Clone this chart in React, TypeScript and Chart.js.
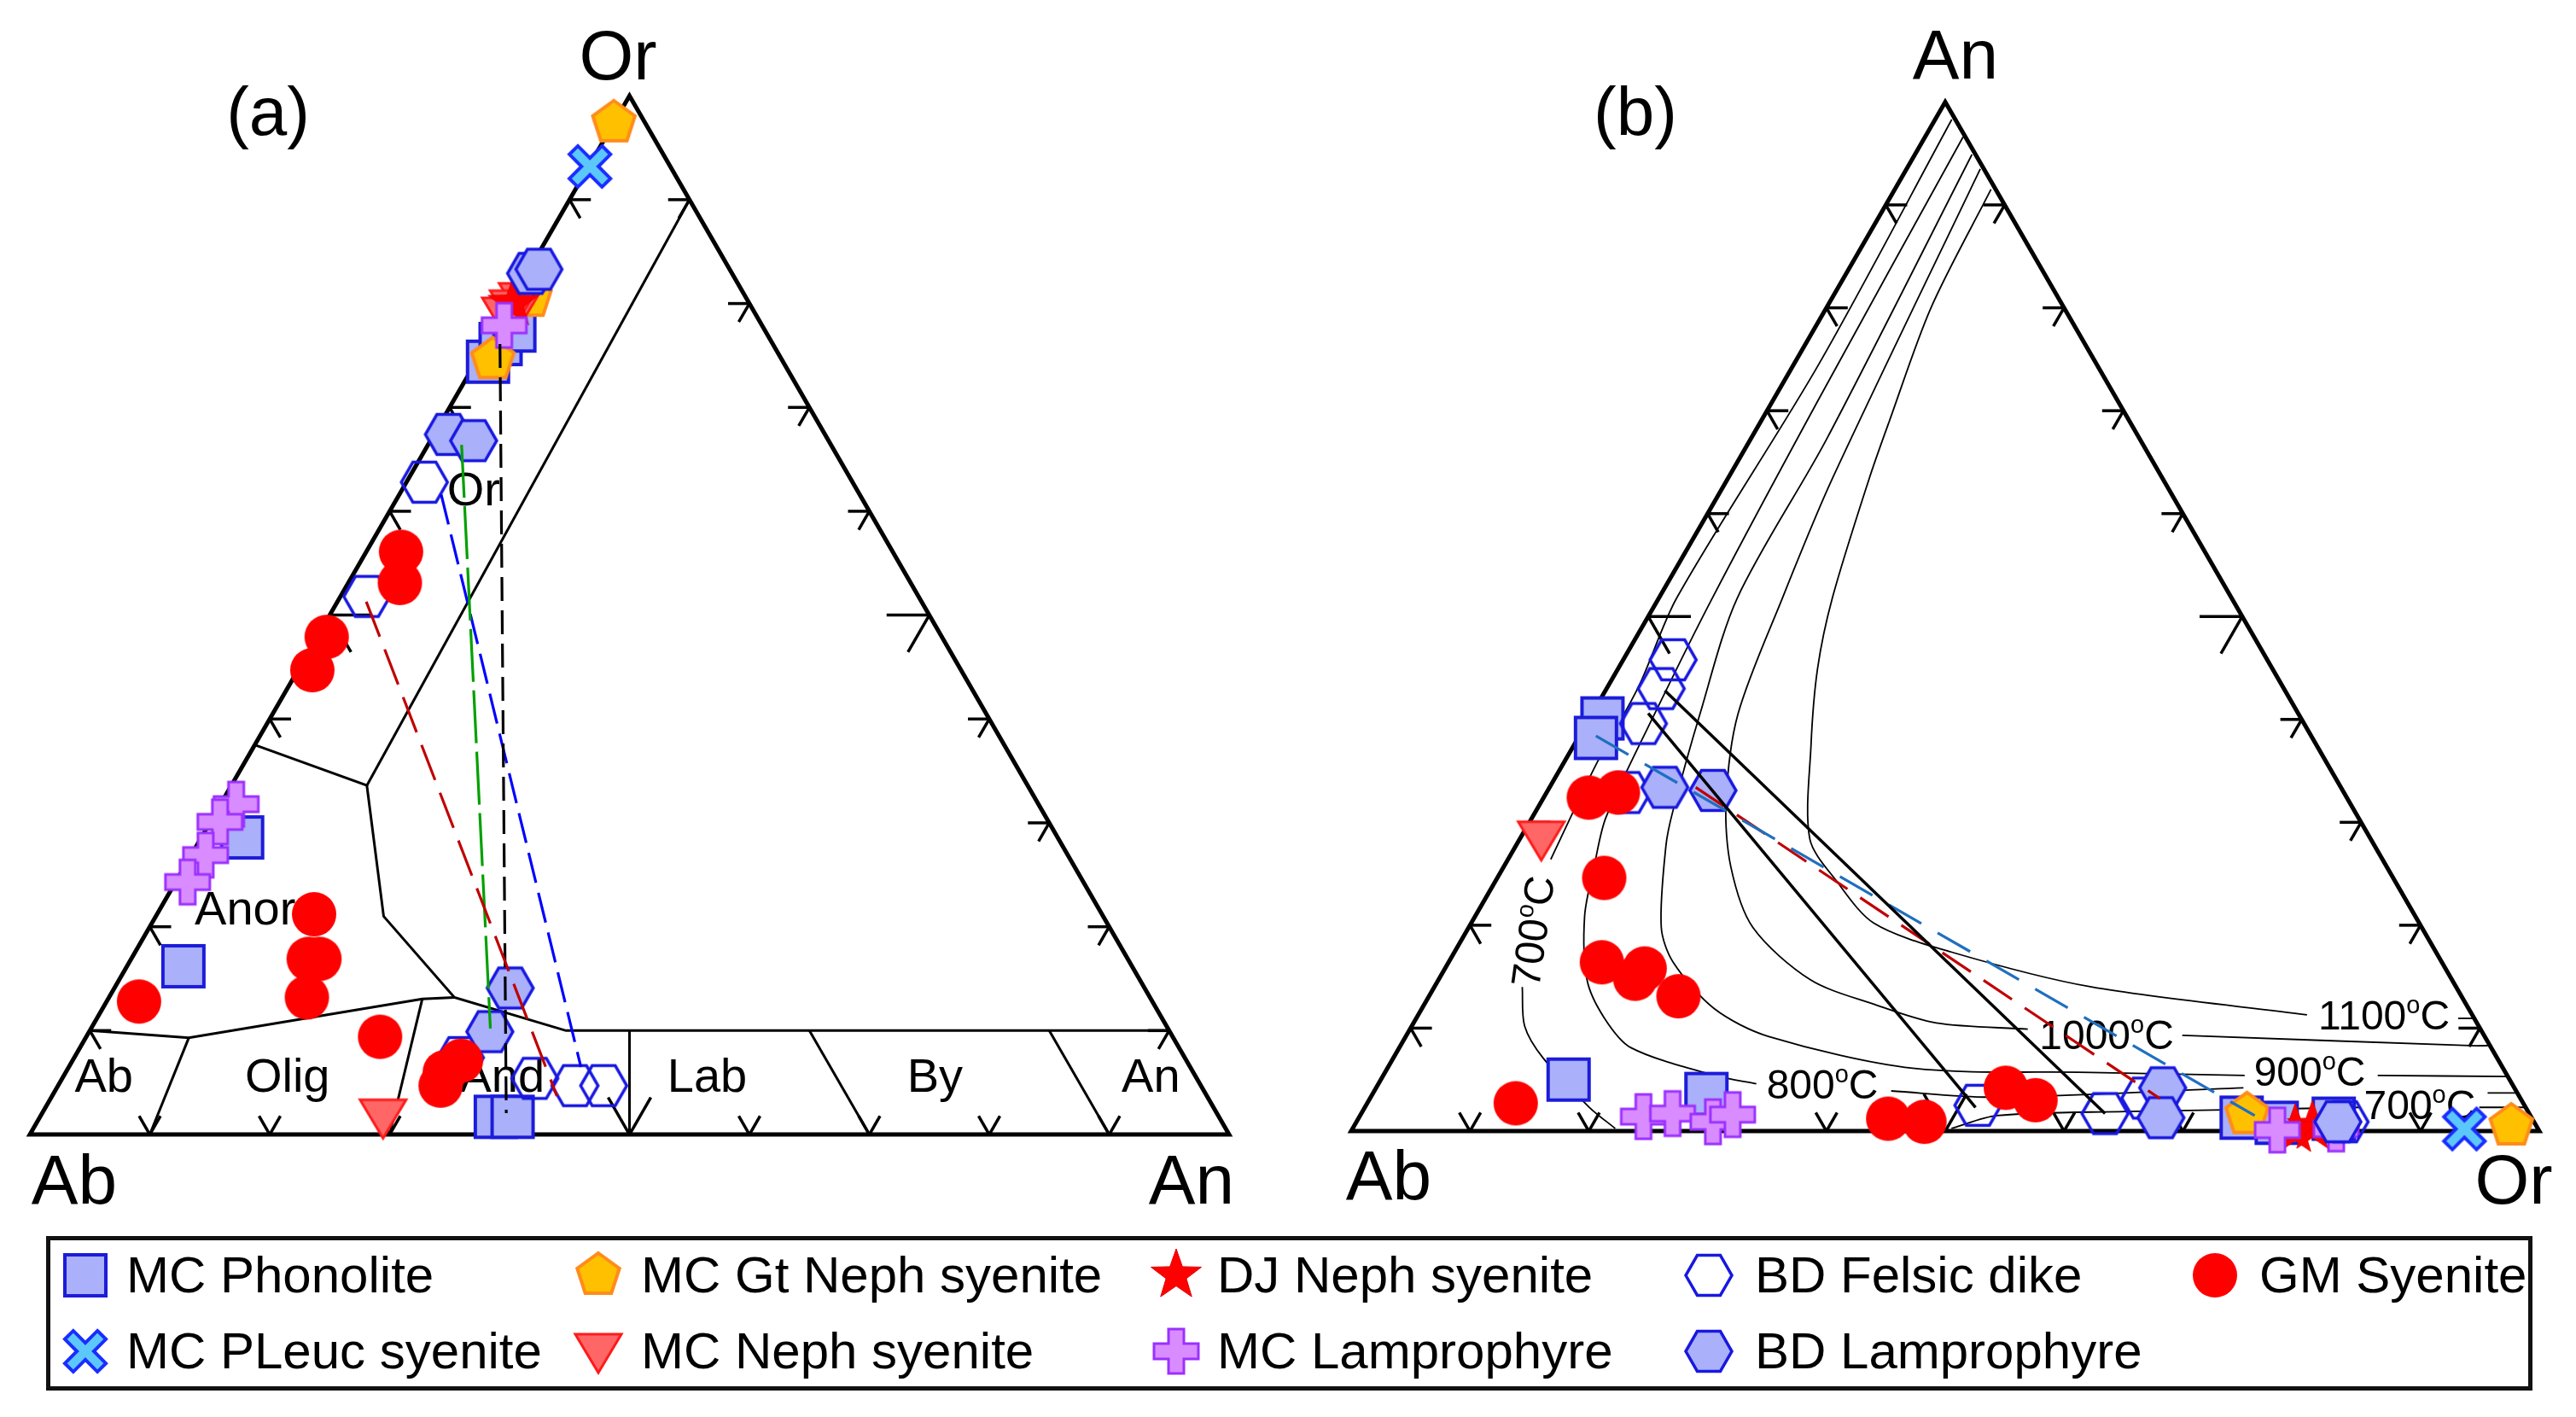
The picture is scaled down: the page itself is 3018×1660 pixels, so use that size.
import React, { useEffect, useRef } from 'react';
import { Chart, registerables } from 'chart.js';

Chart.register(...registerables);

const FONT = '"Liberation Sans", Arial, Helvetica, sans-serif';
const H = Math.sqrt(3) / 2;

type P = [number, number]; // [An %, Or %]  (Ab = 100 - An - Or)

// ---------------- Panel (a): Ab (left) - An (right) - Or (top) ----------------
const aPhonolite: P[] = [[1.0, 74.4], [1.2, 76.1], [1.7, 77.4], [3.4, 28.6], [4.7, 16.2], [38.0, 1.7], [39.4, 1.7]];
const aPLeuc: P[] = [[0.1, 93.2]];
const aGtNeph: P[] = [[0.0, 97.4], [1.3, 74.6], [1.4, 80.6]];
const aNeph: P[] = [[28.6, 1.7], [0.9, 80.3], [0.5, 79.6], [0.2, 78.9]];
const aDJNeph: P[] = [[0.3, 80.0]];
const aMCLamp: P[] = [[1.3, 31.8], [0.8, 30.1], [1.2, 26.9], [1.0, 24.3], [0.6, 77.9]];
const aFelsic: P[] = [[1.5, 62.8], [2.2, 51.8], [32.2, 7.4], [39.4, 5.4], [43.1, 4.7], [45.5, 4.7]];
const aBDLamp: P[] = [[0.3, 82.9], [0.8, 83.3], [1.2, 67.4], [3.6, 66.8], [33.0, 14.1], [33.4, 9.9]];
const aSyenite: P[] = [[2.9, 56.1], [4.3, 53.1], [0.8, 47.9], [1.2, 44.7], [13.1, 21.2], [14.8, 16.9], [15.7, 16.9], [16.5, 13.2], [2.7, 12.8], [24.5, 9.4], [31.6, 6.0], [31.9, 4.7], [32.4, 7.1]];

const aBounds: P[][] = [
  [[10, 90], [11.3, 33.6]],
  [[0, 37.5], [11.3, 33.6], [19, 21], [28.8, 13.2], [39.7, 10], [90, 10]],
  [[28.8, 13.2], [26.2, 13.05], [8.6, 9.3], [0, 10]],
  [[8.6, 9.3], [10, 0]],
  [[26.2, 13.05], [30, 0]],
  [[45, 10], [50, 0]],
  [[60, 10], [70, 0]],
  [[80, 10], [90, 0]],
];
const aTieRed: P[] = [[2.4, 51.3], [42.1, 3.7]];
const aTieGreen: P[] = [[2.8, 66.4], [33.3, 10.2]];
const aTieBlack: P[] = [[1.15, 76.1], [38.7, 2.05]];
const aTieBlue: P[] = [[3.5, 61.6], [42.7, 6.5]];
const aFieldNames = ['Or', 'Anor', 'Ab', 'Olig', 'And', 'Lab', 'By', 'An'];
const aFieldPos: P[] = [[5.9, 62.2], [7.0, 21.9], [3.3, 5.75], [18.6, 5.75], [36.5, 5.75], [53.6, 5.75], [72.6, 5.75], [90.6, 5.75]];

// ---------------- Panel (b): Ab (left) - Or (right) - An (top) ----------------
const bPhonolite: P[] = [[40.1, 1.1], [38.2, 1.5], [5.0, 15.8], [3.6, 28.1], [1.3, 74.3], [0.8, 77.5], [1.2, 82.1]];
const bPLeuc: P[] = [[0.2, 93.6]];
const bGtNeph: P[] = [[1.6, 74.6], [0.5, 97.4]];
const bNeph: P[] = [[28.4, 1.8]];
const bDJNeph: P[] = [[0.4, 80.7], [0.1, 79.4]];
const bMCLamp: P[] = [[1.4, 23.9], [1.7, 26.2], [0.9, 30.0], [1.6, 31.3], [0.1, 77.9], [0.2, 82.8]];
const bFelsic: P[] = [[45.8, 4.2], [43.0, 4.6], [39.6, 4.8], [32.9, 6.8], [2.5, 51.5], [1.7, 62.6], [3.2, 65.2], [0.9, 83.2]];
const bBDLamp: P[] = [[33.4, 9.7], [33.1, 13.9], [4.2, 66.2], [1.3, 67.5], [0.9, 82.6]];
const bSyenite: P[] = [[32.4, 3.8], [32.9, 6.0], [24.6, 9.0], [16.4, 12.9], [15.8, 16.8], [14.8, 16.5], [13.1, 21.0], [2.7, 12.5], [1.2, 44.6], [0.9, 47.8], [4.2, 53.0], [3.0, 56.1]];

const bTie1: P[] = [[40.6, 4.7], [2.3, 51.4]];
const bTie2: P[] = [[42.8, 5.0], [1.7, 62.6]];
const bDashBlue: P[] = [[38.4, 1.4], [1.5, 75.3]];
const bDashRed: P[] = [[33.4, 12.3], [3.15, 66.5]];

const bIso700: P[][] = [
  [[98.3, 1.4], [74.5, 2.1], [51.8, 1.5], [43.2, 2.6], [35.7, 2.8], [26.4, 3.6]],
  [[14.0, 7.4], [10.2, 9.5], [7.1, 12.6], [2.3, 18.9], [0.25, 22.1]],
  [[0.25, 50.4], [1.5, 53.6], [1.9, 64.2], [2.1, 74.8], [2.3, 83.8]],
  [[2.3, 93.8], [2.3, 97.6]],
];
const bIso800: P[][] = [
  [[96.6, 3.2], [70.9, 3.8], [51.8, 4.5], [41.5, 5.2], [30.5, 6.2], [25.7, 7.6], [20.9, 9.2], [14.7, 12.5], [11.0, 15.8], [8.1, 19.5], [5.4, 27.9], [4.6, 31.8]],
  [[3.9, 43.5], [3.3, 52.2], [4.2, 73.0]],
  [[3.7, 93.8], [3.7, 96.3]],
];
const bIso900: P[][] = [
  [[94.9, 4.8], [67.2, 6.4], [51.8, 6.6], [40.5, 9.1], [31.2, 11.5], [27.8, 12.6], [19.8, 16.2], [16.4, 18.9], [11.9, 24.6], [9.2, 30.5], [6.1, 44.2], [5.7, 59.4], [5.4, 72.5]],
  [[5.4, 83.7], [5.3, 94.7]],
];
const bIso1000: P[][] = [
  [[93.5, 6.2], [63.4, 8.8], [51.8, 10.4], [40.5, 12.3], [31.9, 15.6], [25.7, 19.1], [19.8, 23.9], [14.7, 31.3], [12.3, 37.9], [10.5, 44.0], [9.9, 52.0]],
  [[9.3, 65.3], [8.3, 90.0], [8.3, 91.7]],
];
const bIso1100: P[][] = [
  [[91.5, 8.1], [80.0, 8.8], [69.0, 10.8], [63.4, 11.9], [51.8, 14.6], [44.9, 16.8], [37.4, 20.0], [28.4, 24.4], [24.3, 28.7], [20.2, 33.9], [17.4, 41.8], [14.0, 55.3], [11.3, 74.8]],
  [[10.95, 87.7], [10.95, 89.0]],
];
const bTempNames = ['1100', '1000', '900', '800', '700', '700'];
const bTempPos: [number, number][] = [[0.8693, 0.0977], [0.6358, 0.0812], [0.8068, 0.0503], [0.3966, 0.0395], [0.8994, 0.0223], [0.1523, 0.1681]];
const bTempRot = [0, 0, 0, 0, 0, -82];

const seriesNames = ['MC Phonolite', 'MC PLeuc syenite', 'MC Gt Neph syenite', 'MC Neph syenite', 'DJ Neph syenite', 'MC Lamprophyre', 'BD Felsic dike', 'BD Lamprophyre', 'GM Syenite'];
const seriesKinds = ['square', 'xcross', 'pentagon', 'tridown', 'star', 'plus', 'hexOpen', 'hexFill', 'circle'];
const aSeries = [aPhonolite, aPLeuc, aGtNeph, aNeph, aDJNeph, aMCLamp, aFelsic, aBDLamp, aSyenite];
const bSeries = [bPhonolite, bPLeuc, bGtNeph, bNeph, bDJNeph, bMCLamp, bFelsic, bBDLamp, bSyenite];

// ternary -> cartesian (unit side)
const toA = ([an, or]: P) => ({ x: (an + or / 2) / 100, y: (or / 100) * H });
const toB = ([an, or]: P) => ({ x: (or + an / 2) / 100, y: (an / 100) * H });

// ---------------- markers ----------------
type Pt = [number, number];
function regular(n: number, r: number, rot: number): Pt[] {
  const pts: Pt[] = [];
  for (let i = 0; i < n; i++) {
    const a = rot + (i * 2 * Math.PI) / n;
    pts.push([r * Math.cos(a), r * Math.sin(a)]);
  }
  return pts;
}
function plusPts(a: number, L: number, rot: number): Pt[] {
  const base: Pt[] = [[-a, -L], [a, -L], [a, -a], [L, -a], [L, a], [a, a], [a, L], [-a, L], [-a, a], [-L, a], [-L, -a], [-a, -a]];
  return base.map(([x, y]) => [x * Math.cos(rot) - y * Math.sin(rot), x * Math.sin(rot) + y * Math.cos(rot)] as Pt);
}
function starPts(ro: number, ri: number): Pt[] {
  const pts: Pt[] = [];
  for (let i = 0; i < 10; i++) {
    const a = -Math.PI / 2 + (i * Math.PI) / 5;
    const r = i % 2 === 0 ? ro : ri;
    pts.push([r * Math.cos(a), r * Math.sin(a)]);
  }
  return pts;
}
function pathPoly(g: CanvasRenderingContext2D, pts: Pt[]) {
  g.beginPath();
  pts.forEach(([x, y], i) => (i ? g.lineTo(x, y) : g.moveTo(x, y)));
  g.closePath();
}
function buildMarker(kind: string): HTMLCanvasElement {
  const S = 68;
  const c = document.createElement('canvas');
  c.width = S;
  c.height = S;
  const g = c.getContext('2d')!;
  g.translate(S / 2, S / 2);
  g.lineJoin = 'miter';
  const fs = (fill: string | null, stroke: string | null, lw: number) => {
    if (fill) { g.fillStyle = fill; g.fill(); }
    if (stroke) { g.strokeStyle = stroke; g.lineWidth = lw; g.stroke(); }
  };
  switch (kind) {
    case 'square':
      pathPoly(g, [[-24, -24], [24, -24], [24, 24], [-24, 24]]);
      fs('#aab0fa', '#1c1cd9', 4);
      break;
    case 'xcross':
      pathPoly(g, plusPts(7, 27, Math.PI / 4));
      fs('#5cc8fa', '#1a2cff', 4);
      break;
    case 'pentagon':
      pathPoly(g, regular(5, 26, -Math.PI / 2));
      fs('#ffc000', '#ff8c1a', 4);
      break;
    case 'tridown':
      pathPoly(g, [[-27, -20], [27, -20], [0, 25]]);
      fs('#ff6666', '#ff1a1a', 3);
      break;
    case 'star':
      pathPoly(g, starPts(31, 12.5));
      fs('#ff0000', '#e00000', 1);
      break;
    case 'plus':
      pathPoly(g, plusPts(9, 26, 0));
      fs('#d98cff', '#9b30ff', 3);
      break;
    case 'hexOpen':
      pathPoly(g, regular(6, 27, 0));
      fs(null, '#1818e0', 3.5);
      break;
    case 'hexFill':
      pathPoly(g, regular(6, 27, 0));
      fs('#aab0fa', '#1818e0', 3.5);
      break;
    default:
      g.beginPath();
      g.arc(0, 0, 26, 0, Math.PI * 2);
      fs('#ff0000', null, 0);
  }
  return c;
}
let MARKERS: Record<string, HTMLCanvasElement> | null = null;
function getMarkers() {
  if (!MARKERS) {
    MARKERS = {};
    seriesKinds.forEach((k) => { MARKERS![k] = buildMarker(k); });
  }
  return MARKERS;
}

// ---------------- plugin: frame, ticks, labels ----------------
function drawTemp(ctx: CanvasRenderingContext2D, x: number, y: number, num: string, size: number, rotDeg: number) {
  ctx.save();
  ctx.translate(x, y);
  ctx.rotate((rotDeg * Math.PI) / 180);
  const f1 = `${size}px ${FONT}`;
  const f2 = `${Math.round(size * 0.6)}px ${FONT}`;
  ctx.font = f1;
  const w1 = ctx.measureText(num).width;
  const w3 = ctx.measureText('C').width;
  ctx.font = f2;
  const w2 = ctx.measureText('o').width;
  let cx = -(w1 + w2 + w3) / 2;
  const base = size * 0.36;
  ctx.fillStyle = '#000';
  ctx.textAlign = 'left';
  ctx.textBaseline = 'alphabetic';
  ctx.font = f1; ctx.fillText(num, cx, base); cx += w1;
  ctx.font = f2; ctx.fillText('o', cx, base - size * 0.4); cx += w2;
  ctx.font = f1; ctx.fillText('C', cx, base);
  ctx.restore();
}

function centeredText(ctx: CanvasRenderingContext2D, t: string, x: number, y: number, size: number) {
  ctx.font = `${size}px ${FONT}`;
  ctx.textAlign = 'center';
  ctx.textBaseline = 'alphabetic';
  ctx.fillText(t, x, y + size * 0.36);
}

const ternPlugin = {
  id: 'tern',
  beforeDatasetsDraw(chart: any, _args: any, opts: any) {
    const ctx: CanvasRenderingContext2D = chart.ctx;
    const X = (v: number) => chart.scales.x.getPixelForValue(v);
    const Y = (v: number) => chart.scales.y.getPixelForValue(v);
    ctx.save();
    // frame
    ctx.strokeStyle = '#000';
    ctx.lineWidth = 5;
    ctx.lineJoin = 'miter';
    ctx.beginPath();
    ctx.moveTo(X(0), Y(0));
    ctx.lineTo(X(1), Y(0));
    ctx.lineTo(X(0.5), Y(H));
    ctx.closePath();
    ctx.stroke();
    // ticks
    ctx.lineWidth = 3.5;
    ctx.lineCap = 'butt';
    const edges = [
      { p: (t: number) => [t * 0.5, t * H], d: [[1, 0], [0.5, -H]] },
      { p: (t: number) => [1 - t * 0.5, t * H], d: [[-1, 0], [-0.5, -H]] },
      { p: (t: number) => [t, 0], d: [[-0.5, H], [0.5, H]] },
    ];
    for (const e of edges) {
      for (let i = 1; i <= 9; i++) {
        const [x, y] = e.p(i / 10);
        const L = i === 5 ? 50 : 25;
        const px = X(x), py = Y(y);
        for (const [dx, dy] of e.d) {
          ctx.beginPath();
          ctx.moveTo(px, py);
          ctx.lineTo(px + dx * L, py - dy * L);
          ctx.stroke();
        }
      }
    }
    // texts
    ctx.fillStyle = '#000';
    for (const c of opts.corners) centeredText(ctx, c.t, X(c.x), Y(c.y), 82);
    centeredText(ctx, opts.letter.t, X(opts.letter.x), Y(opts.letter.y), 80);
    for (const f of opts.fields) centeredText(ctx, f.t, X(f.x), Y(f.y), 56);
    for (const t of opts.temps) drawTemp(ctx, X(t.x), Y(t.y), t.t, 48, t.rot);
    ctx.restore();
  },
};

// ---------------- chart configs ----------------
function lineDs(pts: P[], map: (p: P) => any, color: string, width: number, dash: number[], order: number, tension = 0) {
  return {
    data: pts.map(map),
    showLine: true,
    borderColor: color,
    borderWidth: width,
    borderDash: dash,
    borderCapStyle: 'butt',
    pointRadius: 0,
    pointHoverRadius: 0,
    fill: false,
    tension,
    order,
  };
}
function markerDs(label: string, pts: P[], map: (p: P) => any, img: HTMLCanvasElement, order: number) {
  return { label, data: pts.map(map), pointStyle: img, pointRadius: 22, pointHoverRadius: 22, showLine: false, order, clip: false };
}

function scalesFor(left: number, base: number, side: number, w: number, h: number) {
  const xmin = -left / side;
  const ymax = base / side;
  return {
    x: { type: 'linear', display: false, min: xmin, max: xmin + w / side },
    y: { type: 'linear', display: false, min: ymax - h / side, max: ymax },
  };
}

function baseOptions(scales: any, tern: any) {
  return {
    responsive: false,
    maintainAspectRatio: false,
    animation: false,
    events: [],
    layout: { padding: 0, autoPadding: false },
    scales,
    plugins: { legend: { display: false }, tooltip: { enabled: false }, tern },
  };
}

function configA(M: Record<string, HTMLCanvasElement>): any {
  const datasets: any[] = [];
  aBounds.forEach((b) => datasets.push(lineDs(b, toA, '#000', 3, [], 40)));
  aSeries.forEach((s, i) => datasets.push(markerDs(seriesNames[i], s, toA, M[seriesKinds[i]], 20 - i)));
  datasets.push(lineDs(aTieRed, toA, '#c00000', 3.2, [44, 16], 1));
  datasets.push(lineDs(aTieGreen, toA, '#00a000', 3.2, [62, 10], 1));
  datasets.push(lineDs(aTieBlack, toA, '#000000', 3.2, [28, 11], 1));
  datasets.push(lineDs(aTieBlue, toA, '#0000ff', 3.2, [36, 12], 1));
  const tern = {
    corners: [{ t: 'Or', x: 0.4904, y: 0.901 }, { t: 'Ab', x: 0.037, y: -0.0363 }, { t: 'An', x: 0.9687, y: -0.0363 }],
    letter: { t: '(a)', x: 0.1986, y: 0.854 },
    fields: aFieldNames.map((t, i) => ({ t, ...toA(aFieldPos[i]) })),
    temps: [],
  };
  return { type: 'scatter', data: { datasets }, options: baseOptions(scalesFor(35, 1329, 1405, 1509, 1420), tern), plugins: [ternPlugin] };
}

function configB(M: Record<string, HTMLCanvasElement>): any {
  const datasets: any[] = [];
  [bIso700, bIso800, bIso900, bIso1000, bIso1100].forEach((iso) =>
    iso.forEach((seg) => datasets.push(lineDs(seg, toB, '#000', 1.8, [], 40, 0.3)))
  );
  bSeries.forEach((s, i) => datasets.push(markerDs(seriesNames[i], s, toB, M[seriesKinds[i]], 20 - i)));
  datasets.push(lineDs(bTie1, toB, '#000', 3.5, [], 1));
  datasets.push(lineDs(bTie2, toB, '#000', 3.5, [], 1));
  datasets.push(lineDs(bDashBlue, toB, '#1f6fbf', 3.2, [44, 22], 1));
  datasets.push(lineDs(bDashRed, toB, '#c00000', 3.2, [40, 18], 1));
  const tern = {
    corners: [{ t: 'An', x: 0.5086, y: 0.9073 }, { t: 'Ab', x: 0.0316, y: -0.0366 }, { t: 'Or', x: 0.9784, y: -0.0395 }],
    letter: { t: '(b)', x: 0.2392, y: 0.8592 },
    fields: [],
    temps: bTempNames.map((t, i) => ({ t, x: bTempPos[i][0], y: bTempPos[i][1], rot: bTempRot[i] })),
  };
  return { type: 'scatter', data: { datasets }, options: baseOptions(scalesFor(74, 1325, 1392, 1509, 1420), tern), plugins: [ternPlugin] };
}

// ---------------- legend ----------------
const legendRows = [
  [0, 2, 4, 6, 8],
  [1, 3, 5, 7],
];
const legendMarkerX = [100, 701, 1378, 2002, 2595];
const legendTextX = [148, 751, 1426, 2056, 2647];
const legendRowY = [1494, 1583];

function Legend() {
  const M = getMarkers();
  const items: React.ReactNode[] = [];
  legendRows.forEach((row, r) =>
    row.forEach((si, c) => {
      const src = M[seriesKinds[si]].toDataURL();
      items.push(
        <img key={`m${si}`} src={src} width={68} height={68}
          style={{ position: 'absolute', left: legendMarkerX[c] - 34, top: legendRowY[r] - 34 }} />
      );
      items.push(
        <div key={`t${si}`} style={{ position: 'absolute', left: legendTextX[c], top: legendRowY[r], transform: 'translateY(-50%)', font: `60px ${FONT}`, lineHeight: 1, whiteSpace: 'nowrap', color: '#000' }}>
          {seriesNames[si]}
        </div>
      );
    })
  );
  return (
    <>
      <div style={{ position: 'absolute', left: 54, top: 1448, width: 2913, height: 181, boxSizing: 'border-box', border: '5px solid #111' }} />
      {items}
    </>
  );
}

export default function App() {
  const refA = useRef<HTMLCanvasElement>(null);
  const refB = useRef<HTMLCanvasElement>(null);
  useEffect(() => {
    const M = getMarkers();
    const ca = new Chart(refA.current as HTMLCanvasElement, configA(M));
    const cb = new Chart(refB.current as HTMLCanvasElement, configB(M));
    return () => {
      ca.destroy();
      cb.destroy();
    };
  }, []);
  return (
    <div style={{ position: 'absolute', left: 0, top: 0, width: 3018, height: 1660, background: '#fff', overflow: 'hidden' }}>
      <canvas ref={refA} width={1509} height={1420} style={{ position: 'absolute', left: 0, top: 0, width: 1509, height: 1420 }} />
      <canvas ref={refB} width={1509} height={1420} style={{ position: 'absolute', left: 1509, top: 0, width: 1509, height: 1420 }} />
      <Legend />
    </div>
  );
}
